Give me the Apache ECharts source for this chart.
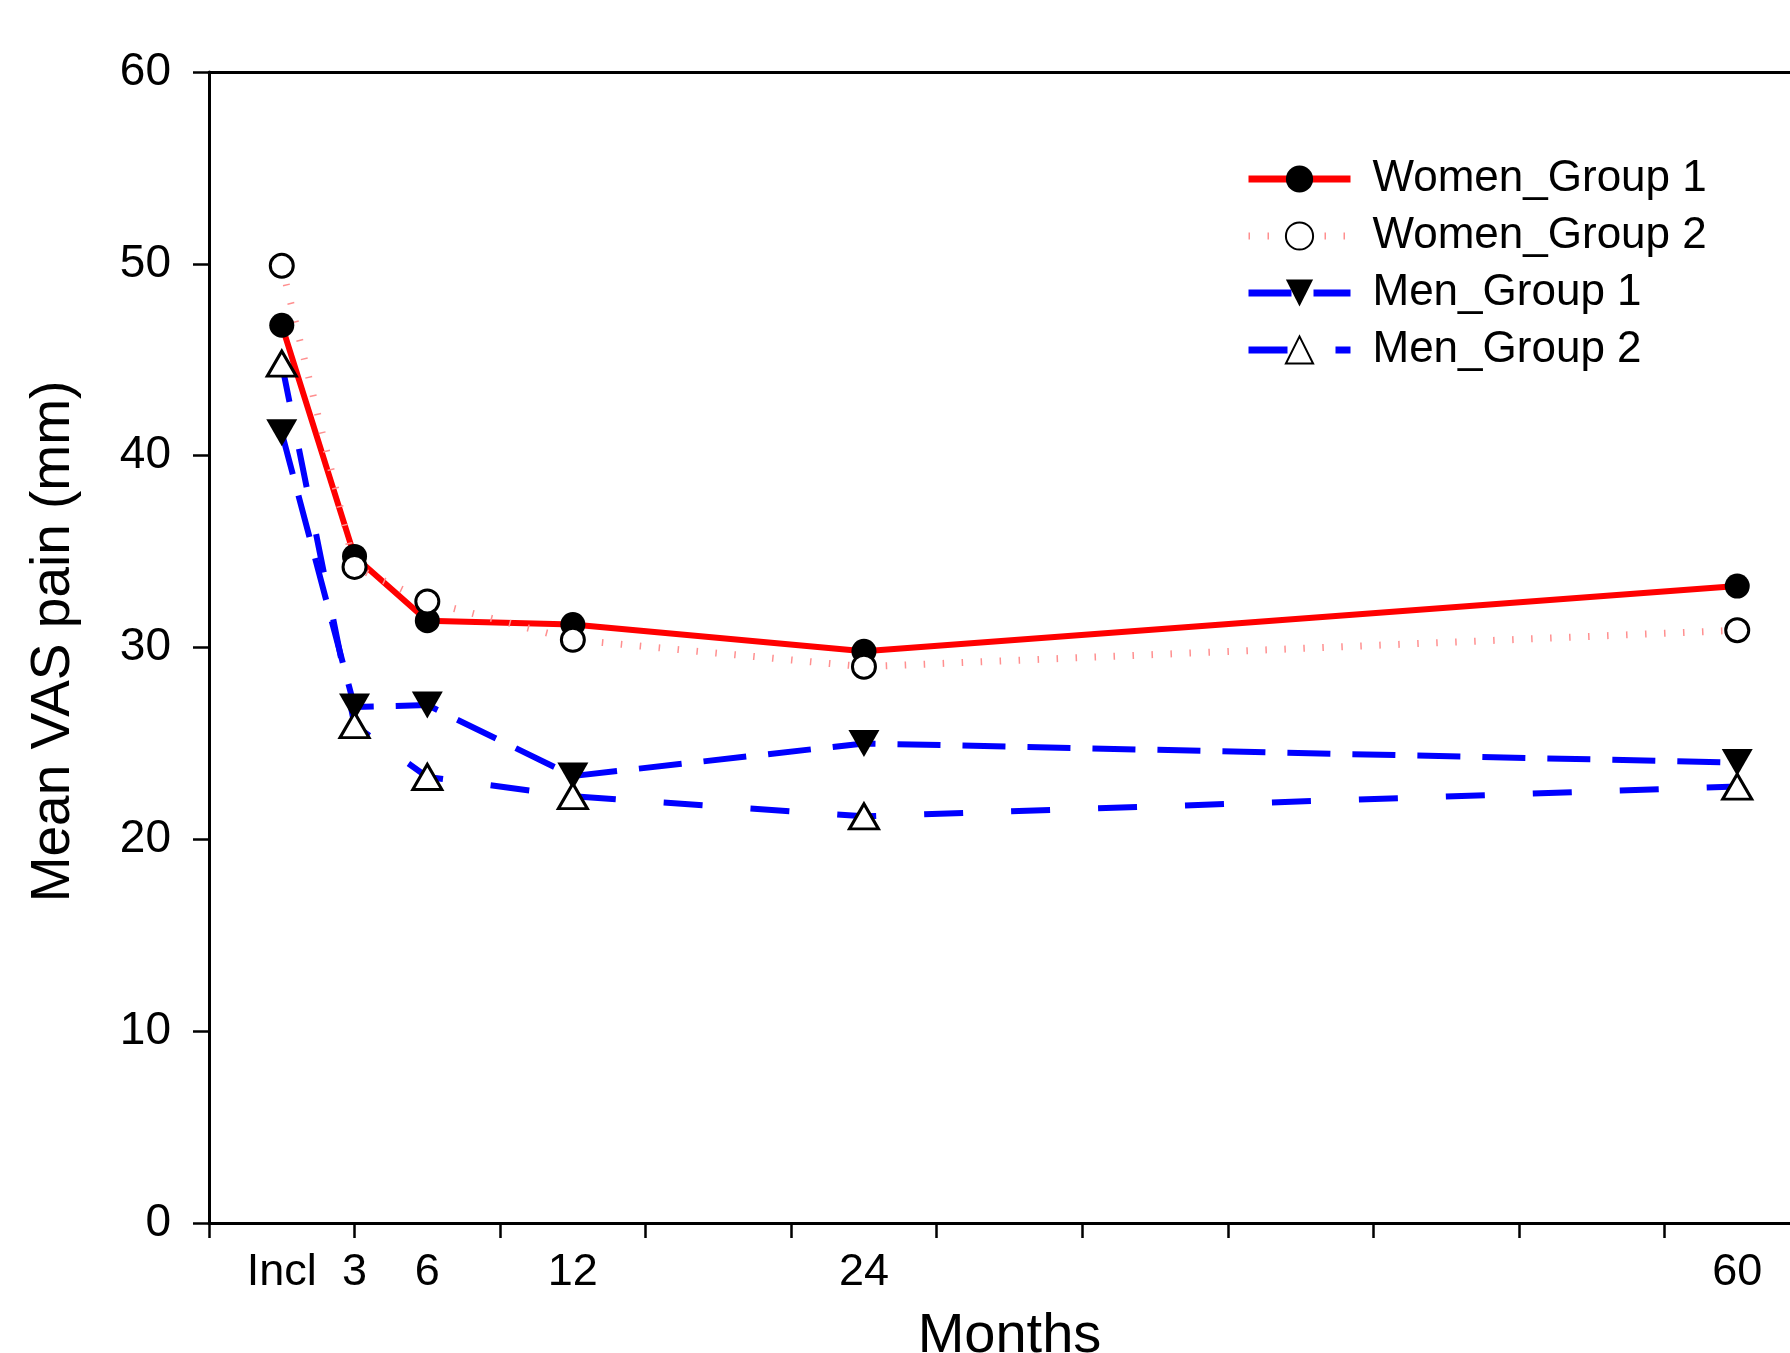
<!DOCTYPE html>
<html>
<head>
<meta charset="utf-8">
<script src="https://cdn.jsdelivr.net/npm/echarts@6/dist/echarts.min.js"></script>
<style>
  html, body { margin: 0; padding: 0; background: #fff; }
  #chart { width: 1790px; height: 1353px; }
</style>
</head>
<body>
<div id="chart"></div>
<script>
// Months since inclusion (Incl = 0)
const months = [0, 3, 6, 12, 24, 60];
const tickLabelValues = [0, 3, 6, 12, 24, 60];
const tickLabelTexts = ['Incl', '3', '6', '12', '24', '60'];

const womenGroup1 = [46.8, 34.75, 31.4, 31.2, 29.8, 33.2];
const womenGroup2 = [49.9, 34.2, 32.4, 30.4, 29.0, 30.9];
const menGroup1 = [41.2, 26.9, 27.0, 23.3, 25.0, 24.0];
const menGroup2 = [44.8, 25.95, 23.25, 22.25, 21.2, 22.75];

const seriesNames = ['Women_Group 1', 'Women_Group 2', 'Men_Group 1', 'Men_Group 2'];

function pairs(vals) { return months.map((m, i) => [m, vals[i]]); }

const X_MIN = -3, X_MAX = 63;
const labelFont = '"Liberation Sans", Arial, sans-serif';

const chart = echarts.init(document.getElementById('chart'), null, { renderer: 'canvas' });

const option = {
  animation: false,
  backgroundColor: '#ffffff',
  grid: { left: 209, top: 72, width: 1601, height: 1151, containLabel: false, outerBoundsMode: 'none' },
  legend: {
    orient: 'vertical',
    left: 1245,
    top: 157,
    padding: 0,
    itemWidth: 102,
    itemHeight: 34,
    itemGap: 13,
    data: seriesNames.map(n => ({ name: n, lineStyle: { width: 7 } })),
    textStyle: { fontSize: 44, fontFamily: labelFont, color: '#000', padding: [0, 0, 0, 17] }
  },
  xAxis: [
    {
      type: 'value', min: X_MIN, max: X_MAX, interval: 6, position: 'bottom',
      axisLine: { show: true, onZero: false, lineStyle: { color: '#000', width: 3 } },
      axisTick: { show: true, length: 15, lineStyle: { color: '#000', width: 2.5 } },
      axisLabel: { show: false },
      splitLine: { show: false }
    },
    {
      type: 'value', min: X_MIN, max: X_MAX, interval: 3, position: 'bottom',
      name: 'Months', nameLocation: 'middle', nameGap: 86,
      nameTextStyle: { fontSize: 56, fontFamily: labelFont, color: '#000' },
      axisLine: { show: false, onZero: false },
      axisTick: { show: false },
      splitLine: { show: false },
      axisLabel: {
        show: true, margin: 27, fontSize: 45, fontFamily: labelFont, color: '#000',
        showMinLabel: true, showMaxLabel: true,
        formatter: function (v) {
          const i = tickLabelValues.indexOf(Math.round(v));
          return (i >= 0 && Math.abs(v - tickLabelValues[i]) < 1e-6) ? tickLabelTexts[i] : '';
        }
      }
    },
    {
      type: 'value', min: X_MIN, max: X_MAX, interval: 6, position: 'top',
      axisLine: { show: true, onZero: false, lineStyle: { color: '#000', width: 3 } },
      axisTick: { show: false }, axisLabel: { show: false }, splitLine: { show: false }
    }
  ],
  yAxis: {
    type: 'value', min: 0, max: 60, interval: 10,
    name: 'Mean VAS pain (mm)', nameLocation: 'middle', nameGap: 128,
    nameTextStyle: { fontSize: 55, fontFamily: labelFont, color: '#000', padding: [0, 0, 0, 12] },
    axisLine: { show: true, onZero: false, lineStyle: { color: '#000', width: 3 } },
    axisTick: { show: true, length: 16, lineStyle: { color: '#000', width: 2.5 } },
    axisLabel: { margin: 38, fontSize: 46, fontFamily: labelFont, color: '#000' },
    splitLine: { show: false }
  },
  series: [
    {
      name: seriesNames[0], type: 'line', xAxisIndex: 0, data: pairs(womenGroup1),
      symbol: 'circle', symbolSize: 25,
      itemStyle: { color: '#000', borderColor: '#000', borderWidth: 0 },
      lineStyle: { color: '#ff0000', width: 6, type: 'solid' },
      emphasis: { disabled: true }
    },
    {
      name: seriesNames[1], type: 'line', xAxisIndex: 0, data: pairs(womenGroup2),
      symbol: 'circle', symbolSize: 23,
      itemStyle: { color: '#ffffff', borderColor: '#000', borderWidth: 3 },
      lineStyle: { color: '#ff8f8f', width: 7, type: [1.5, 17.5] },
      emphasis: { disabled: true }
    },
    {
      name: seriesNames[2], type: 'line', xAxisIndex: 0, data: pairs(menGroup1),
      symbol: 'triangle', symbolRotate: 180, symbolSize: [31, 27],
      itemStyle: { color: '#000', borderColor: '#000', borderWidth: 0 },
      lineStyle: { color: '#0000ff', width: 6, type: [43, 22] },
      emphasis: { disabled: true }
    },
    {
      name: seriesNames[3], type: 'line', xAxisIndex: 0, data: pairs(menGroup2),
      symbol: 'triangle', symbolSize: [29, 25],
      itemStyle: { color: '#ffffff', borderColor: '#000', borderWidth: 3 },
      lineStyle: { color: '#0000ff', width: 6, type: [39, 48] },
      emphasis: { disabled: true }
    }
  ]
};

chart.setOption(option);
</script>
</body>
</html>
